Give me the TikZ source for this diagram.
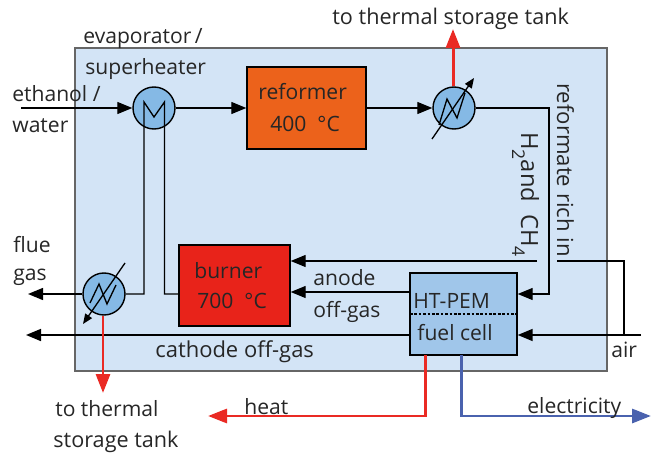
\documentclass[tikz,border=0pt]{standalone}
\usepackage{fontspec}
\setmainfont{Open Sans}
\usetikzlibrary{arrows.meta}
\definecolor{plantblue}{HTML}{D3E4F6}
\definecolor{hxblue}{HTML}{85B9E5}
\definecolor{cellblue}{HTML}{A0C6EA}
\definecolor{reformorange}{HTML}{EC621B}
\definecolor{burnerred}{HTML}{E8231A}
\definecolor{heatred}{HTML}{EA2A24}
\definecolor{elecblue}{HTML}{4A62AE}
\newcommand{\lowidx}[1]{\raisebox{-5pt}{\fontsize{10}{10}\selectfont #1}}
\tikzset{
  unit/.style={draw=black, line width=0.8pt, minimum width=#1, minimum height=1.64cm, inner sep=0pt},
  hx/.style={circle, draw=black, line width=0.8pt, fill=hxblue, minimum size=0.84cm, inner sep=0pt},
  lbl/.style={anchor=base west, inner sep=0pt, font=\fontsize{12}{14}\selectfont, text=black!85},
  pipe/.style={line width=0.75pt, -{Stealth[length=0.3cm, width=0.24cm, inset=0pt]}},
  bigpipe/.style={line width=0.95pt, -{Stealth[length=0.3cm, width=0.24cm, inset=0pt]}},
  heatpipe/.style={draw=heatred, line width=1.7pt, -{Stealth[length=0.38cm, width=0.28cm, inset=0pt]}, heatred},
  elecpipe/.style={draw=elecblue, line width=1.7pt, -{Stealth[length=0.38cm, width=0.28cm, inset=0pt]}, elecblue},
  adjust/.style={line width=0.75pt, -{Stealth[length=0.2cm, width=0.16cm, inset=0pt]}}
}
\begin{document}
\begin{tikzpicture}
    \useasboundingbox (0,0) rectangle (13.02,9.06);
    \node[draw=black!60, line width=0.8pt, fill=plantblue, minimum width=10.64cm, minimum height=6.46cm, inner sep=0pt] (plant) at (6.82,4.87) {};

    \node[unit=2.38cm, fill=reformorange] (reformer) at (6.13,6.9) {};
    \node[unit=2.22cm, fill=burnerred, minimum height=1.62cm] (burner) at (4.69,3.35) {};
    \node[unit=2.14cm, fill=cellblue] (cell) at (9.27,2.78) {};
    \node[hx] (hxA) at (3.08,6.9) {};
    \node[hx] (hxB) at (9.08,6.9) {};
    \node[hx] (hxC) at (2.08,3.18) {};

    % free ends
    \coordinate (ethanol) at (0.42,6.9);
    \coordinate (flue) at (0.56,3.18);
    \coordinate (cathode) at (0.52,2.36);
    \coordinate (air) at (12.82,2.36);
    \coordinate (corner) at (10.98,6.9);
    \coordinate (gapL) at (10.74,3.84);
    \coordinate (gapR) at (11.14,3.84);
    \coordinate (tee) at (12.48,3.84);
    \coordinate (topout) at (9.06,8.48);
    \coordinate (lowout) at (2.06,1.2);
    \coordinate (heatout) at (4.16,0.74);
    \coordinate (elecout) at (13.02,0.74);

    % process lines
    \draw[pipe] (ethanol) -- (hxA.west);
    \draw[pipe] (hxA.east) -- (reformer.west |- hxA.east);
    \draw[pipe] (reformer.east |- hxB.west) -- (hxB.west);
    \draw[pipe] (hxB.east) -- (corner) |- (cell.east |- 0,3.18);
    \draw[pipe] (gapL) -- (burner.east |- gapL);
    \draw[line width=0.75pt] (gapR) -- (tee) -- (tee |- air);
    \draw[bigpipe] (air) -- (cell.east |- air);
    \draw[pipe] (cell.west |- 0,3.22) -- (burner.east |- 0,3.22);
    \draw[bigpipe] (cell.west |- cathode) -- (cathode);
    \draw[pipe] (hxC.west) -- (flue);

    % evaporator coil
    \draw[line width=0.75pt] (hxC.east) -| (2.88,7.02) -- (3.08,6.72) -- (3.29,7.02) |- (burner.west |- hxC.east);

    % heat and power
    \draw[heatpipe] (hxB.north -| topout) -- (topout);
    \draw[heatpipe] (hxC.south -| lowout) -- (lowout);
    \draw[heatpipe] (8.5,1.96) |- (heatout);
    \draw[elecpipe] (9.22,1.96) |- (elecout);

    % zigzags
    \draw[line width=0.75pt] (8.78,6.56) -- (8.94,7.08) -- (9.14,6.7) -- (9.3,7.2);
    \draw[adjust] (8.64,6.28) -- (9.48,7.5);
    \draw[line width=0.75pt] (1.8,3.0) -- (1.98,3.38) -- (2.14,2.98) -- (2.32,3.36);
    \draw[adjust] (2.5,3.8) -- (1.66,2.58);

    % membrane
    \draw[line width=1.5pt, dash pattern=on 1.5pt off 1pt] (8.2,2.78) -- (10.32,2.78);

    \node[lbl] (evap) at (1.66,8.18) {evaporator\,/};
    \node[lbl] (super) at (1.7,7.56) {superheater};
    \node[lbl] (ethanoltxt) at (0.24,7.02) {ethanol /};
    \node[lbl] (watertxt) at (0.24,6.4) {water};
    \node[lbl] (reformertxt) at (5.16,7.06) {reformer};
    \node[lbl] (reformtemp) at (5.4,6.42) {400 ~°C};
    \node[lbl, font=\fontsize{12.3}{14}\selectfont] (toptank) at (6.64,8.56) {to thermal storage tank};
    \node[lbl] (fluetxt) at (0.26,4.02) {flue};
    \node[lbl] (gastxt) at (0.26,3.46) {gas};
    \node[lbl] (burnertxt) at (3.88,3.5) {burner};
    \node[lbl] (burntemp) at (3.94,2.9) {700 ~°C};
    \node[lbl] (anode) at (6.26,3.36) {anode};
    \node[lbl] (offgas) at (6.26,2.72) {off-gas};
    \node[lbl] (htpem) at (8.26,2.9) {HT-PEM};
    \node[lbl] (fuelcell) at (8.34,2.26) {fuel cell};
    \node[lbl, font=\fontsize{12.5}{14}\selectfont] (cathodetxt) at (3.1,1.92) {cathode off-gas};
    \node[lbl] (airtxt) at (12.22,1.92) {air};
    \node[lbl] (lowtankA) at (1.1,0.74) {to thermal};
    \node[lbl, font=\fontsize{12.3}{14}\selectfont] (lowtankB) at (1.06,0.12) {storage tank};
    \node[lbl] (heattxt) at (4.88,0.78) {heat};
    \node[lbl] (electxt) at (10.54,0.8) {electricity};
    \node[lbl, rotate=-90, font=\fontsize{12.6}{14}\selectfont] (rich) at (11.14,7.4) {reformate rich in};
    \node[lbl, rotate=-90, font=\fontsize{13.5}{14}\selectfont] (gases) at (10.42,6.42) {H\lowidx{2}and\ \ CH\lowidx{4}};
\end{tikzpicture}
\end{document}
